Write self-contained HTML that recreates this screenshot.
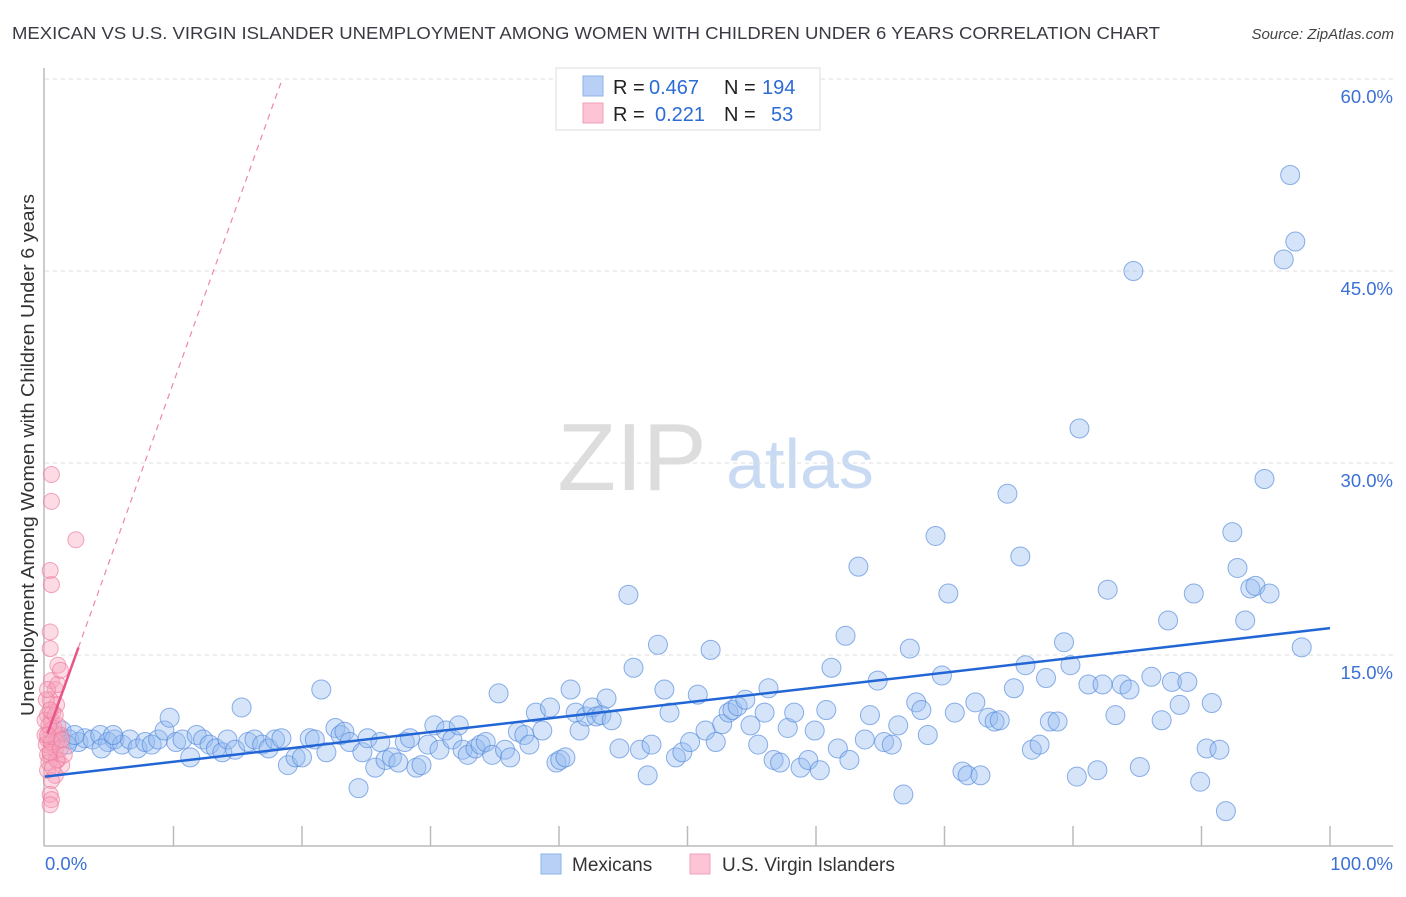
<!DOCTYPE html>
<html><head><meta charset="utf-8"><style>
body{margin:0;background:#fff;font-family:"Liberation Sans",sans-serif}
svg text{font-family:"Liberation Sans",sans-serif}
</style></head><body>
<svg id="chart" width="1406" height="892" xmlns="http://www.w3.org/2000/svg">
<text x="12" y="39" font-size="17.5" fill="#3a3a44" textLength="1148" lengthAdjust="spacingAndGlyphs">MEXICAN VS U.S. VIRGIN ISLANDER UNEMPLOYMENT AMONG WOMEN WITH CHILDREN UNDER 6 YEARS CORRELATION CHART</text>
<text x="1394" y="39" font-size="15" font-style="italic" fill="#444" text-anchor="end">Source: ZipAtlas.com</text>
<text transform="translate(34,455) rotate(-90)" font-size="18" fill="#333" text-anchor="middle" textLength="522" lengthAdjust="spacingAndGlyphs">Unemployment Among Women with Children Under 6 years</text>
<g>
<text x="632" y="490" font-size="96" font-family="Liberation Serif,serif" fill="#ddd" text-anchor="middle">ZIP</text>
<text x="800" y="488" font-size="70" fill="#c9daf3" text-anchor="middle">atlas</text>
</g>
<g id="grid"></g><g id="axes"></g><g id="marks"></g>
<g font-size="20">
<rect x="556" y="68" width="264" height="62" fill="#fff" stroke="#ddd"/>
<rect x="583" y="76" width="20" height="20" fill="#b8d0f5" stroke="#8fb0e6"/>
<rect x="583" y="103" width="20" height="20" fill="#fcc4d4" stroke="#f1a0b8"/>
<text x="613" y="94" fill="#222">R =</text>
<text x="649" y="94" fill="#2c6bd6">0.467</text>
<text x="724" y="94" fill="#222">N =</text>
<text x="762" y="94" fill="#2c6bd6">194</text>
<text x="613" y="121" fill="#222">R =</text>
<text x="655" y="121" fill="#2c6bd6">0.221</text>
<text x="724" y="121" fill="#222">N =</text>
<text x="771" y="121" fill="#2c6bd6">53</text>
</g>
<g>
<rect x="541" y="854" width="20" height="20" fill="#b8d0f5" stroke="#8fb0e6"/>
<text x="572" y="871" font-size="19" fill="#333">Mexicans</text>
<rect x="690" y="854" width="20" height="20" fill="#fcc4d4" stroke="#f1a0b8"/>
<text x="722" y="871" font-size="19" fill="#333">U.S. Virgin Islanders</text>
</g>
</svg>
<script>
const yTicks=[15,30,45,60];
const yTickLabels=["15.0%","30.0%","45.0%","60.0%"];
const xTickCount=10;
const mexX=[0.8,1.3,1.9,2.6,3.1,3.7,4.3,4.9,5.4,6.0,6.6,7.2,7.8,8.3,8.8,4.4,5.3,1.7,2.3,9.3,9.7,10.2,10.7,11.3,11.8,12.3,12.8,13.3,13.8,14.2,14.8,15.3,15.8,16.3,16.9,17.4,17.9,18.4,18.9,19.5,20.0,20.6,21.0,21.5,21.9,22.6,23.0,23.3,23.7,24.4,24.7,25.1,25.7,26.1,26.5,27.0,27.5,28.0,28.4,28.9,29.3,29.8,30.3,30.7,31.2,31.7,32.2,32.5,32.9,33.5,33.9,34.3,34.8,35.3,35.8,36.2,36.8,37.3,37.7,38.2,38.7,39.3,39.8,40.1,40.5,40.9,41.3,41.6,42.1,42.6,42.9,43.3,43.7,44.1,44.7,45.4,45.8,46.3,46.9,47.2,47.7,48.2,48.6,49.1,49.6,50.2,50.8,51.4,51.8,52.2,52.7,53.2,53.5,53.9,54.5,54.9,55.5,56.0,56.3,56.7,57.2,57.8,58.3,58.8,59.4,59.9,60.3,60.8,61.2,61.7,62.3,62.6,63.3,63.8,64.2,64.8,65.3,65.9,66.4,66.8,67.3,67.8,68.2,68.7,69.3,69.8,70.3,70.8,71.4,71.8,72.4,72.8,73.4,73.9,74.3,74.9,75.4,75.9,76.3,76.8,77.4,77.9,78.2,78.8,79.3,79.8,80.3,80.5,81.2,81.9,82.3,82.7,83.3,83.8,84.4,84.7,85.2,86.1,86.9,87.4,87.7,88.3,88.9,89.4,89.9,90.4,90.8,91.4,91.9,92.4,92.8,93.4,93.8,94.2,94.9,95.3,96.4,96.9,97.3,97.8];
const mexY=[8.75,9.1,8.4,8.2,8.5,8.4,8.75,8.2,8.4,8.0,8.4,7.7,8.2,8.0,8.4,7.7,8.75,8.0,8.75,9.1,10.1,8.2,8.4,7.0,8.75,8.4,8.0,7.7,7.4,8.4,7.6,10.9,8.2,8.4,8.0,7.7,8.4,8.5,6.4,7.0,7.0,8.5,8.4,12.3,7.4,9.3,8.75,9.0,8.2,4.6,7.4,8.5,6.2,8.2,6.8,7.0,6.6,8.2,8.5,6.2,6.4,8.0,9.5,7.6,9.1,8.4,9.5,7.6,7.2,7.7,8.0,8.2,7.2,12.0,7.6,7.0,9.0,8.75,8.0,10.5,9.1,10.9,6.6,6.8,7.0,12.3,10.5,9.1,10.2,10.9,10.2,10.3,11.6,9.9,7.7,19.7,14.0,7.6,5.6,8.0,15.8,12.3,10.5,7.0,7.4,8.2,11.9,9.1,15.4,8.2,9.6,10.5,10.7,11.0,11.5,9.5,8.0,10.5,12.4,6.8,6.6,9.3,10.5,6.2,6.8,9.1,6.0,10.7,14.0,7.7,16.5,6.8,21.9,8.4,10.3,13.0,8.2,8.0,9.5,4.1,15.5,11.3,10.7,8.75,24.3,13.4,19.8,10.5,5.9,5.6,11.3,5.6,10.1,9.8,9.9,27.6,12.4,22.7,14.2,7.6,8.0,13.2,9.8,9.8,16.0,14.2,5.5,32.7,12.7,6.0,12.7,20.1,10.3,12.7,12.3,45.0,6.25,13.3,9.9,17.7,12.9,11.1,12.9,19.8,5.1,7.7,11.25,7.6,2.8,24.6,21.8,17.7,20.2,20.4,28.75,19.8,45.9,52.5,47.3,15.6];
const viX=[0.5,0.5,2.4,0.4,0.5,0.4,0.4,1.0,0.5,0.8,0.4,0.9,0.2,0.5,0.4,0.8,0.2,0.5,0.8,0.4,1.0,1.3,0.2,0.8,0.5,0.4,0.5,0.4,1.2,1.0,0,0.1,0.2,0.3,0.6,0.7,0.9,0,0.1,0.2,1.0,1.2,0.5,0.9,0.3,0.6,0.2,0.8,0.4,1.2,1.3,1.5,0.4];
const viY=[29.1,27.0,24.0,21.6,20.5,16.8,15.5,14.2,13.0,12.3,11.5,11.1,10.3,9.9,9.1,8.75,8.4,8.0,7.6,7.2,6.8,6.4,6.0,5.6,5.2,4.1,3.7,3.3,8.75,9.5,8.75,8.0,7.2,6.6,10.5,9.3,8.2,9.9,11.5,12.3,12.7,13.8,8.2,6.8,9.5,6.2,8.75,10.3,7.4,7.7,8.4,7.2,10.7];
const mexFit=[5.5,17.1];
const viFit=[8.3,2.8];

const NS="http://www.w3.org/2000/svg";
const X0=45,X1=1330,Y0=847,PXY=12.8;
function sx(v){return X0+v*(X1-X0)/100;}
function sy(v){return Y0-v*PXY;}
function mk(tag,attrs,parent){const e=document.createElementNS(NS,tag);for(const k in attrs)e.setAttribute(k,attrs[k]);parent.appendChild(e);return e;}
const grid=document.getElementById('grid'),axes=document.getElementById('axes'),marks=document.getElementById('marks');
yTicks.forEach((t,i)=>{
  const l=mk('line',{x1:X0,x2:1393,y1:sy(t),y2:sy(t),stroke:'#ddd','stroke-dasharray':'4,4'},grid);
  
  
  const tx=mk('text',{x:1393,y:sy(t)+24,'font-size':'18.5',fill:'#3b70d6','text-anchor':'end'},axes);
  tx.textContent=yTickLabels[i];
  
  
});
const ya=mk('line',{x1:X0-1,x2:X0-1,y1:68,y2:846,stroke:'#bbb','stroke-width':1.5},axes);


const xa=mk('line',{x1:X0-1,x2:1393,y1:846,y2:846,stroke:'#bbb','stroke-width':1.5},axes);


for(let i=1;i<=xTickCount;i++){
  const t=mk('line',{x1:sx(i*10),x2:sx(i*10),y1:826,y2:846,stroke:'#bbb','stroke-width':1.5},axes);
  
  
}
const xl0=mk('text',{x:45,y:870,'font-size':'18.5',fill:'#3b70d6'},axes);xl0.textContent='0.0%';


const xl1=mk('text',{x:1393,y:870,'font-size':'18.5',fill:'#3b70d6','text-anchor':'end'},axes);xl1.textContent='100.0%';



mexX.forEach((v,i)=>{
  const c=mk('circle',{cx:sx(v),cy:sy(mexY[i]),r:9.5,fill:'rgba(150,188,240,0.4)',stroke:'rgba(80,135,220,0.65)','stroke-width':1},marks);
  
  
});
viX.forEach((v,i)=>{
  const c=mk('circle',{cx:sx(v),cy:sy(viY[i]),r:8,fill:'rgba(248,165,190,0.4)',stroke:'rgba(235,120,155,0.65)','stroke-width':1},marks);
  
  
});
const bl=mk('line',{x1:sx(0),y1:sy(mexFit[0]),x2:sx(100),y2:sy(mexFit[1]),stroke:'#2266d6','stroke-width':2.5},marks);


const xEnd=(60-viFit[0])/viFit[1];
const pd=mk('line',{x1:sx(2.6),y1:sy(viFit[0]+viFit[1]*2.6),x2:sx(xEnd),y2:sy(60),stroke:'#ee88a8','stroke-width':1.2,'stroke-dasharray':'6,5'},marks);


const ps=mk('line',{x1:sx(0.2),y1:sy(viFit[0]+viFit[1]*0.2),x2:sx(2.6),y2:sy(viFit[0]+viFit[1]*2.6),stroke:'#e8558a','stroke-width':2.5},marks);


</script>
</body></html>
